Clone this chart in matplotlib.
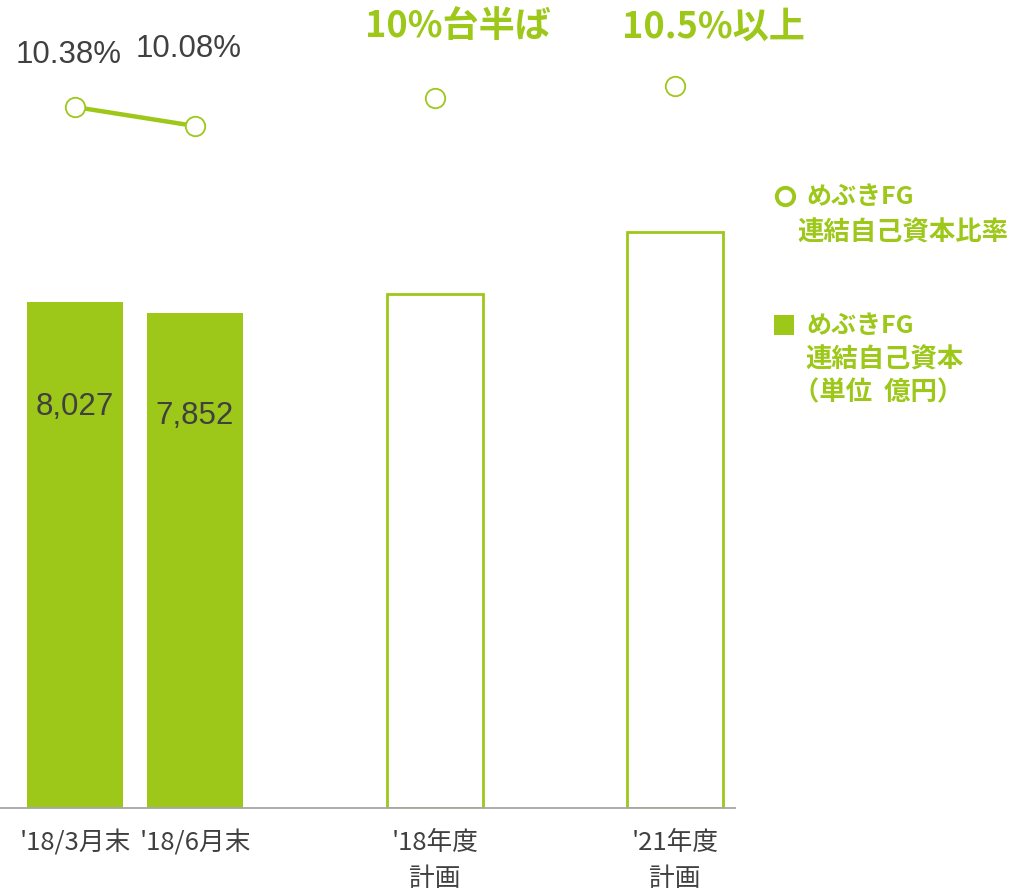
import matplotlib
matplotlib.use("Agg")
import matplotlib.pyplot as plt
import numpy as np

plt.rcParams['font.family'] = ['Noto Sans CJK JP', 'DejaVu Sans']

# Data
categories = ["'18/3月末", "'18/6月末", "'18年度\n計画", "'21年度\n計画"]
x_pos = [0, 1, 3, 5]
capital = [8027, 7852, 8154, 9137]          # 連結自己資本 (億円)
capital_labels = ["8,027", "7,852", None, None]
ratio_actual = [10.38, 10.08]              # 連結自己資本比率 (%)
ratio_plan = [10.52, 10.71]
ratio_labels = ["10.38%", "10.08%"]
plan_labels = ["10%台半ば", "10.5%以上"]
filled = [True, True, False, False]

GREEN = "#9DC819"
GRAY_TEXT = "#404040"

W, H = 1028, 893
fig = plt.figure(figsize=(W / 100, H / 100), dpi=100)
ax = fig.add_axes([0, (H - 808) / H, 735 / W, 808 / H])

# Bars
for xp, val, fl in zip(x_pos, capital, filled):
    if fl:
        ax.bar(xp, val, width=0.8, color=GREEN, edgecolor="none", zorder=2)
    else:
        ax.bar(xp, val, width=0.8, facecolor="white", edgecolor=GREEN,
               linewidth=2.0, zorder=2)

for xp, val, lab in zip(x_pos, capital, capital_labels):
    if lab:
        ax.annotate(lab, (xp, val * 0.8), xytext=(0, -4),
                    textcoords="offset pixels", ha="center", va="center",
                    fontsize=22.5, color=GRAY_TEXT, family="Liberation Sans",
                    zorder=3)

ax.set_xlim(-0.625, 5.5)
ax.set_ylim(0, 808 / 0.06304)
for s in ["top", "right", "left"]:
    ax.spines[s].set_visible(False)
ax.spines["bottom"].set_color("#A6A6A6")
ax.spines["bottom"].set_linewidth(1.3)
ax.set_yticks([])
ax.set_xticks(x_pos)
ax.set_xticklabels(categories, fontsize=18.5, color=GRAY_TEXT, linespacing=1.5)
ax.tick_params(axis="x", length=0, pad=16)

# Ratio on secondary axis
ax2 = ax.twinx()
ax2.set_ylim(10.38 - (808 - 107) / 63.3, 10.38 + 107 / 63.3)
ax2.set_yticks([])
for s in ax2.spines.values():
    s.set_visible(False)
ax2.plot(x_pos[:2], ratio_actual, color=GREEN, linewidth=3.2, zorder=3)
ax2.plot(x_pos, ratio_actual + ratio_plan, linestyle="none", marker="o",
         markersize=14, markerfacecolor="white", markeredgecolor=GREEN,
         markeredgewidth=1.3, zorder=4, clip_on=False)

for xp, val, lab, dy in zip(x_pos[:2], ratio_actual, ratio_labels, [52, 77]):
    ax2.annotate(lab, (xp, val), xytext=(-6, dy),
                 textcoords="offset pixels", ha="center", va="center",
                 fontsize=22.5, color=GRAY_TEXT, family="Liberation Sans")

plan_text_x = [3.19, 5.32]
for tx, lab in zip(plan_text_x, plan_labels):
    fig.text((75 + tx * 120) / W, 1 - 27 / H, lab, ha="center", va="center",
             fontsize=26, color=GREEN, fontweight="bold")

# Legend block
fig.lines.append(plt.Line2D([785 / W], [1 - 196 / H], transform=fig.transFigure,
                            marker="o", markersize=12.5, markerfacecolor="white",
                            markeredgecolor=GREEN, markeredgewidth=2.8,
                            linestyle="none"))
fig.text(806 / W, 1 - 197 / H, "めぶきFG", ha="left", va="center",
         fontsize=18, color=GREEN, fontweight="bold")
fig.text(797 / W, 1 - 233 / H, "連結自己資本比率", ha="left", va="center",
         fontsize=19, color=GREEN, fontweight="bold")

fig.lines.append(plt.Line2D([784 / W], [1 - 325 / H], transform=fig.transFigure,
                            marker="s", markersize=14, markerfacecolor=GREEN,
                            markeredgecolor=GREEN, markeredgewidth=0,
                            linestyle="none"))
fig.text(806 / W, 1 - 326 / H, "めぶきFG", ha="left", va="center",
         fontsize=18, color=GREEN, fontweight="bold")
fig.text(805 / W, 1 - 360 / H, "連結自己資本", ha="left", va="center",
         fontsize=19, color=GREEN, fontweight="bold")
fig.text(793 / W, 1 - 393 / H, "（単位  億円）", ha="left", va="center",
         fontsize=19, color=GREEN, fontweight="bold")

fig.savefig("out.png", dpi=100)
